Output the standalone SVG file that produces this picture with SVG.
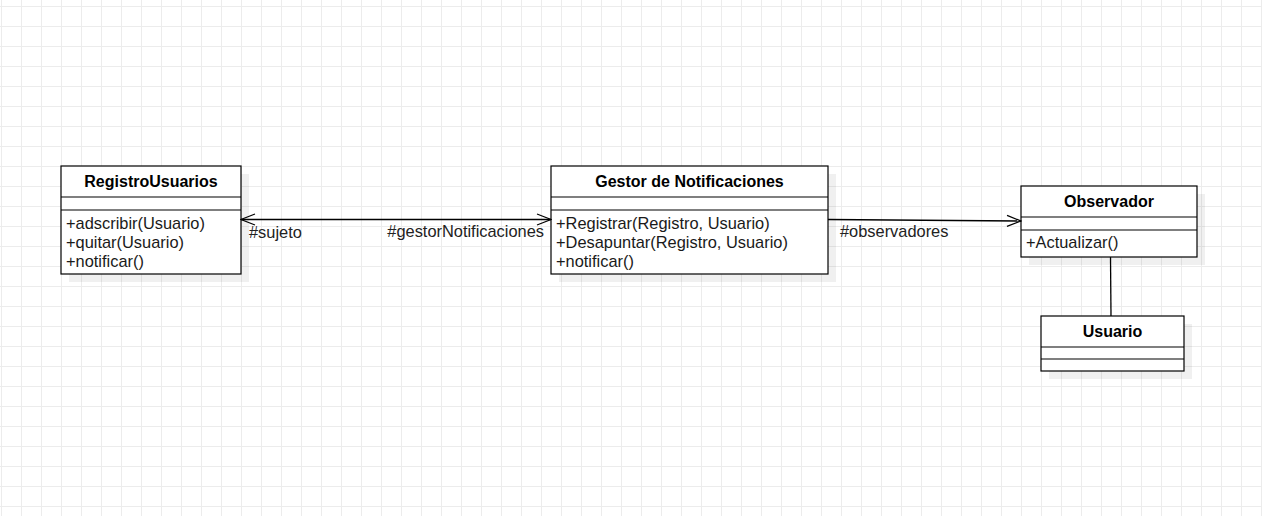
<svg xmlns="http://www.w3.org/2000/svg" width="1262" height="516" viewBox="0 0 1262 516">
  <defs>
    <pattern id="grid" x="1" y="6" width="20" height="20" patternUnits="userSpaceOnUse">
      <path d="M0 0.5H20M0.5 0V20" fill="none" stroke="#ececec" stroke-width="1"/>
    </pattern>
    <marker id="open" viewBox="0 0 16 14" refX="15" refY="7" markerWidth="16" markerHeight="14" markerUnits="userSpaceOnUse" orient="auto-start-reverse">
      <path d="M1 1.5L15 7L1 12.5" fill="none" stroke="#000" stroke-width="1.2"/>
    </marker>
  </defs>
  <style>
    .box { fill: #fff; stroke: #000; stroke-width: 1.2; }
    .shadow { fill: #000; opacity: 0.06; }
    .div { stroke: #000; stroke-width: 1.2; }
    .title { font-family: "Liberation Sans", Arial, sans-serif; font-size: 16px; font-weight: bold; fill: #000; text-anchor: middle; }
    .m { font-family: "Liberation Sans", Arial, sans-serif; font-size: 16.4px; fill: #1a1a1a; }
    .lbl { font-family: "Liberation Sans", Arial, sans-serif; font-size: 16.4px; fill: #222; }
    .edge { fill: none; stroke: #000; stroke-width: 1.3; }
  </style>
  <rect width="1262" height="516" fill="#fff"/>
  <rect width="1262" height="516" fill="url(#grid)"/>

  <g id="RegistroUsuarios">
    <rect class="shadow" x="69" y="174" width="180" height="108"/>
    <rect class="box" x="61" y="166" width="180" height="108"/>
    <line class="div" x1="61" y1="197" x2="241" y2="197"/>
    <line class="div" x1="61" y1="210" x2="241" y2="210"/>
    <text class="title" x="151" y="187">RegistroUsuarios</text>
    <text class="m" x="66" y="229">+adscribir(Usuario)</text>
    <text class="m" x="66" y="248">+quitar(Usuario)</text>
    <text class="m" x="66" y="267">+notificar()</text>
  </g>

  <g id="GestorNotificaciones">
    <rect class="shadow" x="559" y="174" width="277" height="108"/>
    <rect class="box" x="551" y="166" width="277" height="108"/>
    <line class="div" x1="551" y1="197" x2="828" y2="197"/>
    <line class="div" x1="551" y1="210" x2="828" y2="210"/>
    <text class="title" x="689.5" y="187">Gestor de Notificaciones</text>
    <text class="m" x="556" y="229">+Registrar(Registro, Usuario)</text>
    <text class="m" x="556" y="248">+Desapuntar(Registro, Usuario)</text>
    <text class="m" x="556" y="267">+notificar()</text>
  </g>

  <g id="Observador">
    <rect class="shadow" x="1029" y="194" width="176" height="71"/>
    <rect class="box" x="1021" y="186" width="176" height="71"/>
    <line class="div" x1="1021" y1="217" x2="1197" y2="217"/>
    <line class="div" x1="1021" y1="230" x2="1197" y2="230"/>
    <text class="title" x="1109" y="207">Observador</text>
    <text class="m" x="1026" y="248">+Actualizar()</text>
  </g>

  <g id="Usuario">
    <rect class="shadow" x="1049" y="324" width="143" height="55"/>
    <rect class="box" x="1041" y="316" width="143" height="55"/>
    <line class="div" x1="1041" y1="347" x2="1184" y2="347"/>
    <line class="div" x1="1041" y1="359" x2="1184" y2="359"/>
    <text class="title" x="1112.5" y="337">Usuario</text>
  </g>

  <g id="connectors">
    <path class="edge" d="M241 219.5H551" marker-start="url(#open)" marker-end="url(#open)"/>
    <text class="lbl" x="249" y="238">#sujeto</text>
    <text class="lbl" x="544" y="237" text-anchor="end">#gestorNotificaciones</text>
    <path class="edge" d="M828 219.5L1021 221" marker-end="url(#open)"/>
    <text class="lbl" x="840" y="237">#observadores</text>
    <path class="edge" d="M1110.5 257L1111 316"/>
  </g>
</svg>
